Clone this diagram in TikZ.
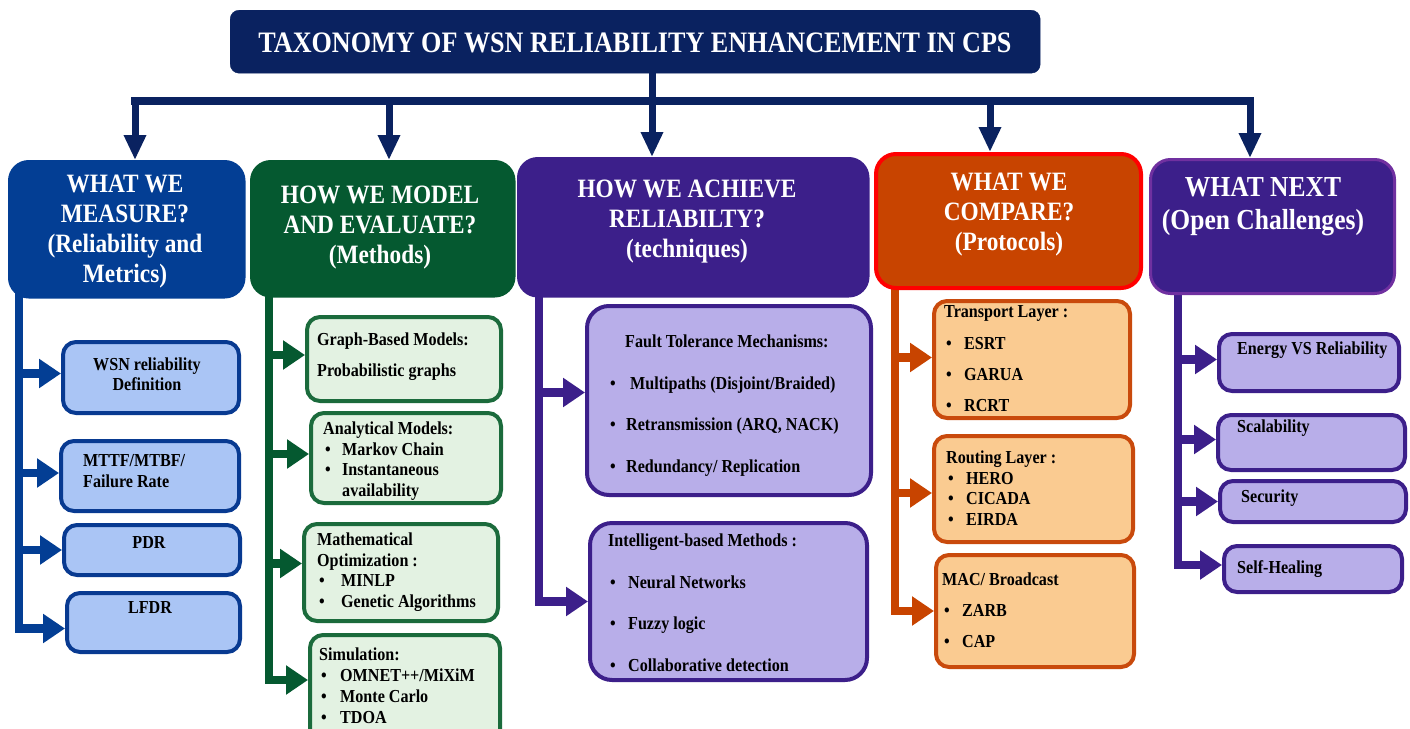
\documentclass[tikz,border=0pt]{standalone}
\usepackage{fontspec}
\setmainfont{Liberation Serif}[FakeStretch=0.88]
\usetikzlibrary{arrows.meta}
\pgfdeclarelayer{paper}
\pgfdeclarelayer{wires}
\pgfsetlayers{paper,wires,main}

\definecolor{navy}{RGB}{10,34,96}
\definecolor{mblue}{RGB}{3,62,148}
\definecolor{mblueline}{RGB}{8,58,145}
\definecolor{mbluefill}{RGB}{170,197,245}
\definecolor{mgreen}{RGB}{5,89,48}
\definecolor{mgreenline}{RGB}{27,107,60}
\definecolor{mgreenfill}{RGB}{227,242,226}
\definecolor{mpurple}{RGB}{60,31,138}
\definecolor{mpurplefill}{RGB}{184,174,233}
\definecolor{morange}{RGB}{200,68,0}
\definecolor{morangeline}{RGB}{201,74,12}
\definecolor{morangefill}{RGB}{250,203,145}
\definecolor{mred}{RGB}{255,0,0}
\definecolor{mviolet}{RGB}{112,48,160}

% bullet with a fixed indent before the item text
\newcommand\itm[1][19pt]{\makebox[#1][l]{\hspace{2pt}\textbullet}}

\tikzset{
  frame/.style={rectangle, inner sep=0pt, anchor=north west},
  sz/.style 2 args={minimum width=#1pt, minimum height=#2pt},
  hdr/.style={frame, rounded corners=20pt, line width=1.5pt},
  leaf/.style={frame, rounded corners=13pt, line width=4pt},
  hdrtext/.style={text=white, font=\bfseries\fontsize{26.5}{30}\selectfont,
    align=center, anchor=north, inner sep=0pt},
  leaftext/.style={font=\bfseries\fontsize{18.3}{#1}\selectfont,
    align=left, anchor=north west, inner sep=0pt},
  leaftext/.default=21,
  oneline/.style={font=\bfseries\fontsize{18.3}{21}\selectfont,
    inner sep=0pt, anchor=base west},
  bus/.style={draw=navy, line width=8.5pt, line cap=rect},
  drop/.style={draw=navy, line width=7pt, -{Triangle[width=21pt,length=25pt]}},
  branch/.style={line width=8.5pt, -{Triangle[width=28pt,length=22pt]}},
}

\begin{document}
\begin{tikzpicture}[x=1pt, y=-1pt]
\useasboundingbox (0,0) rectangle (1410,728);
\begin{pgfonlayer}{paper}
  \fill[white] (0,0) rectangle (1410,728);
\end{pgfonlayer}

% ---------- title ----------
\node[frame, sz={810}{63}, fill=navy, draw=navy, rounded corners=9pt] (T) at (230,10) {};
\node[anchor=base, inner sep=0pt, text=white, font=\bfseries\fontsize{29.7}{30}\selectfont]
  (Tt) at (635,52) {TAXONOMY OF WSN RELIABILITY ENHANCEMENT IN CPS};

% ---------- column heads ----------
\node[hdr, sz={236}{137}, fill=mblue, draw=mblue] (h1) at (8,160) {};
\node[hdr, sz={264}{136}, fill=mgreen, draw=mgreen] (h2) at (250,160) {};
\node[hdr, sz={351}{139}, fill=mpurple, draw=mpurple] (h3) at (517,157) {};
\node[hdr, sz={265}{134}, fill=morange, draw=mred, line width=4pt] (h4) at (874,152) {};
\node[hdr, sz={244}{134}, fill=mpurple, draw=mviolet, line width=3pt] (h5) at (1149,158) {};

\node[hdrtext] (h1t) at (125,174.5) {WHAT WE\\MEASURE?\\(Reliability and\\Metrics)};
\node[hdrtext] (h2t) at (380,185.5) {HOW WE MODEL\\AND EVALUATE?\\(Methods)};
\node[hdrtext] (h3t) at (687,179.5) {HOW WE ACHIEVE\\RELIABILTY?\\(techniques)};
\node[hdrtext] (h4t) at (1009,172.5) {WHAT WE\\COMPARE?\\(Protocols)};
\node[hdrtext, font=\bfseries\fontsize{29}{33}\selectfont] (h5t) at (1263,176.8)
  {WHAT NEXT\\(Open Challenges)};

% ---------- metrics ----------
\node[leaf, sz={176}{71}, fill=mbluefill, draw=mblueline] (m1) at (61,340) {};
\node[leaf, sz={178}{70}, fill=mbluefill, draw=mblueline] (m2) at (59,439) {};
\node[leaf, sz={176}{50}, fill=mbluefill, draw=mblueline] (m3) at (62,523) {};
\node[leaf, sz={173}{59}, fill=mbluefill, draw=mblueline] (m4) at (65,591) {};
\node[leaftext=20, align=center, anchor=north] (m1t) at (147,357.6) {WSN reliability\\Definition};
\node[leaftext] (m2t) at (83,454.6) {MTTF/MTBF/\\Failure Rate};
\node[oneline, anchor=base] (m3t) at (149,548) {PDR};
\node[oneline, anchor=base] (m4t) at (150,613) {LFDR};

% ---------- methods ----------
\node[leaf, sz={194}{84}, fill=mgreenfill, draw=mgreenline] (g1) at (305,315) {};
\node[leaf, sz={190}{90}, fill=mgreenfill, draw=mgreenline] (g2) at (309,411) {};
\node[leaf, sz={194}{97}, fill=mgreenfill, draw=mgreenline] (g3) at (302,522) {};
\node[leaf, sz={190}{120}, fill=mgreenfill, draw=mgreenline] (g4) at (308,633) {};
\node[leaftext=31] (g1t) at (317,332.6) {Graph-Based Models:\\Probabilistic graphs};
\node[leaftext=20.5] (g2t) at (323,421.6)
  {Analytical Models:\\\itm Markov Chain\\\itm Instantaneous\\\hspace*{19pt}availability};
\node[leaftext=20.7] (g3t) at (317,532.6)
  {Mathematical\\Optimization :\\\itm[24pt]MINLP\\\itm[24pt]Genetic Algorithms};
\node[leaftext=21] (g4t) at (319,647.6)
  {Simulation:\\\itm[21pt]OMNET++/MiXiM\\\itm[21pt]Monte Carlo\\\itm[21pt]TDOA};

% ---------- techniques ----------
\node[leaf, sz={284}{189}, fill=mpurplefill, draw=mpurple, rounded corners=22pt] (p1) at (585,304) {};
\node[leaf, sz={277}{157}, fill=mpurplefill, draw=mpurple, rounded corners=22pt] (p2) at (588,521) {};
\node[leaftext=41.7] (p1t) at (608,334.6)
  {\hspace*{17pt}Fault Tolerance Mechanisms:\\\itm[22pt]Multipaths (Disjoint/Braided)\\
   \itm[18pt]Retransmission (ARQ, NACK)\\\itm[18pt]Redundancy/ Replication};
\node[leaftext=41.5] (p2t) at (608,533.6)
  {Intelligent-based Methods :\\\itm[20pt]Neural Networks\\\itm[20pt]Fuzzy logic\\
   \itm[20pt]Collaborative detection};

% ---------- protocols ----------
\node[leaf, sz={196}{117}, fill=morangefill, draw=morangeline] (o1) at (932,299) {};
\node[leaf, sz={199}{106}, fill=morangefill, draw=morangeline] (o2) at (932,434) {};
\node[leaf, sz={198}{112}, fill=morangefill, draw=morangeline] (o3) at (934,553) {};
\node[leaftext=31.3] (o1t) at (944,305.6)
  {Transport Layer :\\\itm[20pt]ESRT\\\itm[20pt]GARUA\\\itm[20pt]RCRT};
\node[leaftext=20.7] (o2t) at (946,450.6)
  {Routing Layer :\\\itm[20pt]HERO\\\itm[20pt]CICADA\\\itm[20pt]EIRDA};
\node[leaftext=31] (o3t) at (942,572.6)
  {MAC/ Broadcast\\\itm[20pt]ZARB\\\itm[20pt]CAP};

% ---------- open challenges ----------
\node[leaf, sz={180}{57}, fill=mpurplefill, draw=mpurple] (q1) at (1217,332) {};
\node[leaf, sz={187}{55}, fill=mpurplefill, draw=mpurple] (q2) at (1216,413) {};
\node[leaf, sz={186}{41}, fill=mpurplefill, draw=mpurple] (q3) at (1218,479) {};
\node[leaf, sz={178}{46}, fill=mpurplefill, draw=mpurple] (q4) at (1222,544) {};
\node[oneline] (q1t) at (1237,354) {Energy VS Reliability};
\node[oneline] (q2t) at (1237,432) {Scalability};
\node[oneline] (q3t) at (1241,502) {Security};
\node[oneline] (q4t) at (1237,573) {Self-Healing};

% ---------- connectors ----------
\begin{pgfonlayer}{wires}
  \coordinate (b1) at (135,101);
  \coordinate (b2) at (389,101);
  \coordinate (b3) at (652,101);
  \coordinate (b4) at (990,101);
  \coordinate (b5) at (1250,101);
  \draw[bus] (b1) -- (b5);
  \draw[drop] (T.south -| b3) -- (b3 |- h3.north);
  \draw[drop] (b1) -- (b1 |- h1.north);
  \draw[drop] (b2) -- (b2 |- h2.north);
  \draw[drop] (b4) -- (b4 |- h4.north);
  \draw[drop] (b5) -- (b5 |- h5.north);

  \coordinate (k1) at ([xshift=11pt,yshift=8pt]h1.south west);
  \coordinate (k2) at ([xshift=19pt,yshift=8pt]h2.south west);
  \coordinate (k3) at ([xshift=22pt,yshift=8pt]h3.south west);
  \coordinate (k4) at ([xshift=21pt,yshift=8pt]h4.south west);
  \coordinate (k5) at ([xshift=29pt,yshift=8pt]h5.south west);

  \draw[branch, draw=mblue] (k1) |- ([yshift=4pt]m1.west);
  \draw[branch, draw=mblue] (k1) |- ([yshift=3pt]m2.west);
  \draw[branch, draw=mblue] (k1) |- (m3.west);
  \draw[branch, draw=mblue] (k1) |- ([yshift=-6pt]m4.west);

  \draw[branch, draw=mgreen] (k2) |- ([yshift=4pt]g1.west);
  \draw[branch, draw=mgreen] (k2) |- ([yshift=4pt]g2.west);
  \draw[branch, draw=mgreen] (k2) |- ([yshift=9pt]g3.west);
  \draw[branch, draw=mgreen] (k2) |- ([yshift=15pt]g4.west);

  \draw[branch, draw=mpurple] (k3) |- ([yshift=8pt]p1.west);
  \draw[branch, draw=mpurple] (k3) |- (p2.west);

  \draw[branch, draw=morange] (k4) |- ([yshift=2pt]o1.west);
  \draw[branch, draw=morange] (k4) |- ([yshift=-4pt]o2.west);
  \draw[branch, draw=morange] (k4) |- (o3.west);

  \draw[branch, draw=mpurple] (k5) |- ([yshift=3pt]q1.west);
  \draw[branch, draw=mpurple] (k5) |- ([yshift=3pt]q2.west);
  \draw[branch, draw=mpurple] (k5) |- (q3.west);
  \draw[branch, draw=mpurple] (k5) |- ([yshift=4pt]q4.west);
\end{pgfonlayer}
\end{tikzpicture}
\end{document}
